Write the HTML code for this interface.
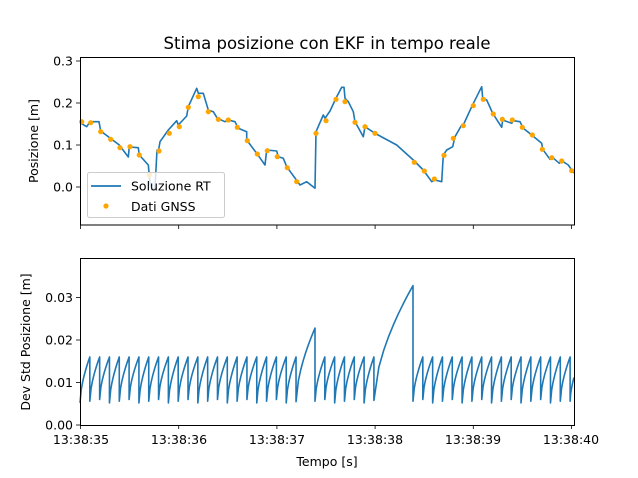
<!DOCTYPE html>
<html><head><meta charset="utf-8"><style>
html,body{margin:0;padding:0;background:#fff;}
svg{display:block;font-family:"DejaVu Sans","Liberation Sans",sans-serif;}
</style></head><body>
<svg id="s" width="638" height="478" viewBox="0 0 638 478" xmlns="http://www.w3.org/2000/svg">
<rect width="638" height="478" fill="#fff"/>
<text x="327" y="49" font-size="16.5" text-anchor="middle">Stima posizione con EKF in tempo reale</text>
<g id="top"></g>
<g id="bot"></g>
<rect x="80.5" y="57.5" width="494" height="167.5" fill="none" stroke="#000" stroke-width="1"/>
<rect x="80.5" y="258.5" width="494" height="167" fill="none" stroke="#000" stroke-width="1"/>
<g font-size="12.5" text-anchor="end">
<text x="73" y="191.5">0.0</text><text x="73" y="149.5">0.1</text><text x="73" y="107.5">0.2</text><text x="73" y="65.5">0.3</text>
<text x="73" y="429.5">0.00</text><text x="73" y="387">0.01</text><text x="73" y="344.5">0.02</text><text x="73" y="302">0.03</text>
</g>
<g stroke="#000" stroke-width="0.8">
<line x1="76" y1="187" x2="80" y2="187"/><line x1="76" y1="145" x2="80" y2="145"/><line x1="76" y1="103" x2="80" y2="103"/><line x1="76" y1="61" x2="80" y2="61"/>
<line x1="76" y1="425" x2="80" y2="425"/><line x1="76" y1="382.5" x2="80" y2="382.5"/><line x1="76" y1="340" x2="80" y2="340"/><line x1="76" y1="297.5" x2="80" y2="297.5"/>
</g>
<g id="xt" stroke="#000" stroke-width="0.8"></g>
<g font-size="12.5" text-anchor="middle">
<text x="81" y="444">13:38:35</text><text x="179" y="444">13:38:36</text><text x="277" y="444">13:38:37</text><text x="375" y="444">13:38:38</text><text x="473" y="444">13:38:39</text><text x="571" y="444">13:38:40</text>
<text x="327" y="466">Tempo [s]</text>
<text transform="translate(38,141) rotate(-90)">Posizione [m]</text>
<text transform="translate(30,342) rotate(-90)">Dev Std Posizione [m]</text>
</g>
<g>
<rect x="87.5" y="172.5" width="137" height="45" rx="2" fill="#fff" fill-opacity="0.8" stroke="#ccc"/>
<line x1="91" y1="186" x2="121" y2="186" stroke="#1f77b4" stroke-width="1.8"/>
<text x="131" y="190.5" font-size="12.5">Soluzione RT</text>
<circle cx="106" cy="206" r="2.6" fill="orange"/>
<text x="131" y="211" font-size="12.5">Dati GNSS</text>
</g>
</svg>
<script>
var NS="http://www.w3.org/2000/svg";
function el(t,a,p){var e=document.createElementNS(NS,t);for(var k in a)e.setAttribute(k,a[k]);document.getElementById(p).appendChild(e);return e;}
[80.5,178.7,276.9,375.1,473.3,571.5].forEach(function(x){el('line',{x1:x,y1:225,x2:x,y2:229},'xt');el('line',{x1:x,y1:425,x2:x,y2:429},'xt');});
var L=[[80,122.7],[86.7,126.7],[90,121.7],[99,121.7],[100.7,131],[110,138],[119.3,145],[128.3,157],[129.3,147],[138.3,147.7],[139.3,155],[148.3,165],[150,183],[152,190],[155,188],[157,150],[158.3,151.7],[160,141.7],[168.3,130],[176.7,120.7],[178.3,125],[186.7,116],[188.3,106.7],[196.7,88.3],[198.3,93.3],[203.3,93.3],[208.3,110],[213.3,111.7],[217.3,118.3],[225,121.7],[228.3,120],[235,121.7],[238.3,128.3],[246.7,131.7],[246.7,140],[256.7,153.3],[265,165],[266.7,150],[276.7,151],[278.3,156.7],[283.3,158.3],[286.7,166.7],[300,185],[306.7,181.7],[315,188.3],[316,131.7],[323.3,115],[325,118.3],[330,111],[336.7,96.7],[341.7,87.3],[344,87.3],[345,98.3],[348.3,101.7],[353.3,111.7],[355,121.7],[363.3,136.7],[365,126.7],[375,133.3],[396.7,145],[413.3,160],[423.3,170],[431.7,181.7],[435,180],[441.7,181.7],[443.3,155],[446.7,150],[452.7,146.7],[455,136.7],[461.7,125],[463.3,125],[471.7,106.7],[481.7,86.7],[482.7,98.3],[486.7,100],[492.7,113.3],[501.7,127.3],[502.7,120],[511.7,123.3],[513.3,120.7],[520,121.7],[523.3,128.3],[531.7,135],[541.7,143.3],[542.7,149.3],[550,159.3],[551.7,156.7],[559.3,163.3],[561.7,160.7],[568.3,165],[571.7,170],[574,173]];
el('path',{d:'M'+L.map(function(p){return p.join(',')}).join(' L'),fill:'none',stroke:'#1f77b4','stroke-width':1.6,'stroke-linejoin':'round'},'top');
var D=[[81.7,121.7],[90.7,122.7],[100.7,131.7],[110.7,139.3],[120,147.7],[130,146.7],[139.3,155],[149.3,175],[159,151],[169.3,133.3],[179.3,126.7],[188.3,107.3],[198.3,96.7],[208.3,111.7],[218.3,119.3],[228.3,120],[237.3,127.3],[247.3,140.7],[257.3,154],[267.3,150.7],[277.3,156.7],[287.3,167.7],[296.7,181.7],[316,133.3],[326,120.7],[336,99.3],[345,101.7],[355,122.3],[365,126.7],[375,133.3],[414.3,162.3],[424.3,171],[434.3,179],[444,155.3],[453.3,138.3],[463.3,125.7],[473.3,105.7],[483.3,99.3],[493.3,114],[502.3,119.3],[512.3,120],[522.3,127.3],[532.3,135],[542.3,149.3],[551.7,157.7],[561.7,161],[571.7,170.7]];
D.forEach(function(p){el('circle',{cx:p[0],cy:p[1],r:2.6,fill:'orange'},'top');});
function Y(v){return 425-v*4250;}
var d='';var first=true;
function seg(x0,x1,v0,v1){var n=8;for(var i=0;i<=n;i++){var t=i/n;var x=x0+(x1-x0)*t;var v=v0+(v1-v0)*Math.pow(t,0.6);d+=(first?'M':'L')+x.toFixed(2)+','+Y(v).toFixed(2)+' ';first=false;}}
var k=0;
function teeth(xs,xe){var P=9.82;var x=xs;while(x+P<=xe+0.5){var lo=0.0052+((k++)%3)*0.0004;seg(x,x+P,lo,0.0160);x+=P;}return x;}
var x=teeth(80,297);
seg(x,315,0.0055,0.0228);
x=teeth(315,375);
seg(x,413,0.0058,0.0328);
x=teeth(413,570.5);
seg(x,574,0.0056,0.0112);
el('path',{d:d,fill:'none',stroke:'#1f77b4','stroke-width':1.6,'stroke-linejoin':'round'},'bot');
</script>
</body></html>
